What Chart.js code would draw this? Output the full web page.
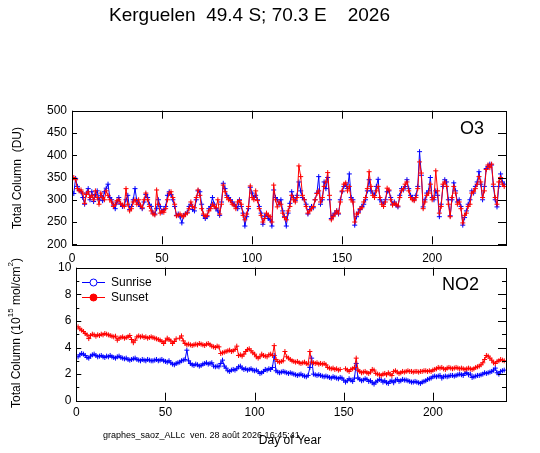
<!DOCTYPE html>
<html>
<head>
<meta charset="utf-8">
<title>Kerguelen SAOZ 2026</title>
<script src="https://cdn.jsdelivr.net/npm/chart.js@4.4.1/dist/chart.umd.min.js"></script>
<style>
  html, body { margin: 0; padding: 0; background: #fff; }
  #wrap { position: relative; width: 540px; height: 453px; }
  #wrap canvas { position: absolute; left: 0; top: 0; }
</style>
</head>
<body>
<div id="wrap">
  <canvas id="o3Chart" width="540" height="453"></canvas>
  <canvas id="no2Chart" width="540" height="453"></canvas>
</div>
<script>
// ---------- data ----------
const days = [
  1,2,3,4,5,6,7,8,9,10, 11,12,13,14,15,16,17,18,19,20,
  21,22,23,24,25,26,27,28,29,30, 31,32,33,34,35,36,37,38,39,40,
  41,42,43,44,45,46,47,48,49,50, 51,52,53,54,55,56,57,58,59,60,
  61,62,63,64,65,66,67,68,69,70, 71,72,73,74,75,76,77,78,79,80,
  81,82,83,84,85,86,87,88,89,90, 91,92,93,94,95,96,97,98,99,100,
  101,102,103,104,105,106,107,108,109,110, 111,112,113,114,115,116,117,118,119,120,
  121,122,123,124,125,126,127,128,129,130, 131,132,133,134,135,136,137,138,139,140,
  141,142,143,144,145,146,147,148,149,150, 151,152,153,154,155,156,157,158,159,160,
  161,162,163,164,165,166,167,168,169,170, 171,172,173,174,175,176,177,178,179,180,
  181,182,183,184,185,186,187,188,189,190, 191,192,193,194,195,196,197,198,199,200,
  201,202,203,204,205,206,207,208,209,210, 211,212,213,214,215,216,217,218,219,220,
  221,222,223,224,225,226,227,228,229,230, 231,232,233,234,235,236,237,238,239,240
];

const o3Sunrise = [
  314,348,330,322,318,305,290,315,325,300, 318,296,312,320,300,310,298,318,326,335,
  305,300,288,280,295,305,290,285,288,300, 310,278,285,300,325,298,290,285,280,295,
  312,305,290,285,270,268,280,300,285,272, 278,285,310,318,312,300,285,265,268,262,
  248,265,268,272,285,290,278,275,300,320, 318,290,265,258,262,280,285,305,290,280,
  275,265,295,337,325,310,305,300,295,290, 285,280,300,285,270,241,262,280,328,315,
  305,310,300,285,270,245,262,268,258,255, 241,322,305,300,290,300,275,262,241,270,
  292,318,305,298,310,340,320,305,300,290, 268,278,285,282,300,315,352,290,300,340,
  325,350,300,258,265,270,275,268,300,318, 330,335,325,358,305,300,243,262,272,278,
  285,290,300,320,345,320,315,310,330,346, 300,295,290,300,318,320,305,290,295,288,
  284,310,325,322,330,345,325,310,305,300, 310,330,408,355,284,300,315,320,350,305,
  300,320,310,262,290,330,345,340,300,264, 300,338,320,295,300,285,243,260,275,290,
  300,320,315,330,340,363,335,300,330,370, 375,380,378,330,300,284,330,358,340,335
];

const o3Sunset = [
  350,345,325,320,322,315,292,312,318,305, 310,300,320,305,290,315,305,300,320,310,
  300,295,285,290,298,300,292,288,285,325, 290,275,280,295,300,290,300,288,282,300,
  315,300,285,275,268,266,322,290,270,275, 272,280,300,315,318,305,290,264,265,268,
  264,262,268,270,280,295,285,282,305,322, 310,280,268,262,265,275,280,290,285,282,
  300,268,290,333,318,305,300,298,290,288, 280,295,298,290,265,255,268,285,331,305,
  300,320,298,280,265,250,258,270,265,262, 250,333,300,284,295,290,270,260,255,275,
  285,310,300,295,305,376,352,310,300,285, 270,275,280,285,300,314,320,295,305,330,
  340,361,310,255,262,268,275,270,295,320, 335,338,320,330,300,295,250,268,270,280,
  282,295,305,325,363,330,310,305,320,330, 305,290,285,295,326,322,300,288,292,290,
  286,305,320,325,335,340,320,305,300,298, 305,325,385,360,280,295,310,315,335,300,
  305,365,320,270,285,335,340,330,290,262, 305,330,315,290,295,280,248,265,270,285,
  290,315,318,325,335,352,340,305,320,368, 378,372,380,335,305,290,340,350,335,330
];

const no2Sunrise = [
  3.30,3.45,3.55,3.50,3.40,3.25,3.20,3.35,3.45,3.50, 3.40,3.30,3.35,3.40,3.30,3.25,3.35,3.30,3.40,3.30,
  3.25,3.20,3.30,3.35,3.25,3.20,3.15,3.20,3.10,3.05, 3.10,3.15,3.20,3.10,3.05,3.00,3.10,3.05,3.00,3.10,
  3.05,3.00,3.00,3.05,3.10,3.00,3.05,3.10,3.00,2.95, 2.90,3.00,2.85,2.75,2.70,2.80,2.85,2.90,3.00,3.05,
  3.10,3.80,3.00,2.80,2.70,2.65,2.75,2.70,2.60,2.65, 2.75,2.80,2.85,2.75,2.80,2.85,2.60,2.55,2.60,2.55,
  2.80,3.05,2.60,2.45,2.25,2.20,2.30,2.35,2.30,2.40, 2.55,2.60,2.45,2.35,2.40,2.30,2.35,2.40,2.30,2.25,
  2.30,2.18,2.05,2.10,2.20,2.35,2.30,2.40,2.35,2.50, 3.40,2.25,2.15,2.10,2.15,2.20,2.15,2.10,2.05,2.10,
  2.05,2.00,1.95,1.90,1.95,2.00,1.90,1.85,1.80,1.90, 2.50,3.20,2.00,1.95,1.90,1.95,1.90,1.85,1.80,1.85,
  1.80,1.75,1.70,1.80,1.75,1.70,1.65,1.75,1.70,1.55, 1.40,1.50,1.65,1.55,1.45,1.70,2.80,1.70,1.60,1.50,
  1.55,1.65,1.60,1.45,1.50,1.35,1.25,1.40,1.50,1.60, 1.55,1.40,1.50,1.35,1.30,1.45,1.50,1.35,1.55,1.60,
  1.45,1.50,1.60,1.55,1.55,1.50,1.45,1.40,1.40,1.45, 1.40,1.35,1.30,1.40,1.45,1.50,1.60,1.65,1.70,1.80,
  1.85,1.80,1.85,1.90,1.70,1.80,1.85,1.80,1.85,1.90, 1.90,1.85,1.90,1.95,2.00,1.95,1.90,2.05,2.10,1.95,
  2.00,1.75,1.80,1.85,1.90,1.90,1.95,2.00,2.10,2.05, 2.10,2.15,2.20,2.30,2.45,2.10,2.00,2.20,2.25,2.30
];

const no2Sunset = [
  5.55,5.40,5.30,5.20,5.05,4.95,4.67,4.90,5.00,4.95, 4.85,4.95,4.90,5.00,4.95,5.05,5.00,4.95,4.90,4.85,
  4.80,4.85,4.55,4.70,4.75,4.80,4.70,4.75,4.80,4.90, 4.60,4.36,4.55,4.80,4.87,4.80,4.85,4.75,4.80,4.70,
  4.75,4.80,4.75,4.70,4.65,4.60,4.55,4.45,4.30,4.50, 4.70,4.60,4.50,4.30,4.45,4.65,null,4.70,4.87,4.50,
  4.30,4.20,4.25,4.20,4.15,4.20,4.25,4.20,4.30,4.25, 4.20,4.15,4.25,4.30,4.20,4.10,4.05,4.00,4.10,4.05,
  3.55,3.60,3.65,3.70,3.75,3.80,3.70,3.75,3.85,4.10, 3.40,3.45,3.35,3.50,3.70,3.85,3.90,3.75,3.60,3.50,
  3.30,3.20,3.30,3.50,3.40,3.35,3.30,3.45,3.50,3.40, 4.14,3.10,2.95,2.90,2.95,3.00,3.70,3.30,3.20,3.10,
  3.00,2.95,2.90,2.95,2.85,2.80,2.85,2.90,2.80,2.75, 3.70,2.90,2.85,2.80,2.85,2.75,2.80,2.75,2.80,2.70,
  2.50,2.45,2.40,2.45,2.35,2.40,2.30,2.35,null,null, 2.40,2.30,2.20,2.35,2.40,2.50,3.20,2.30,2.20,2.10,
  2.15,2.20,2.10,2.05,2.15,2.35,2.30,2.05,2.00,1.95, 1.90,2.00,2.05,1.95,2.10,2.00,1.90,2.20,2.25,2.15,
  2.05,2.10,2.20,2.15,2.20,2.25,2.20,2.20,2.15,2.20, 2.20,2.15,2.20,2.20,2.25,2.25,2.20,2.25,2.20,2.30,
  2.35,2.40,2.50,2.45,2.50,2.40,2.35,2.45,2.50,2.45, 2.40,2.45,2.50,2.45,2.40,2.45,2.40,2.35,2.40,2.45,
  2.40,2.35,2.40,2.50,2.55,2.60,2.70,2.85,3.10,3.40, 3.35,3.20,3.05,2.85,2.80,2.95,3.00,3.10,3.05,3.00
];

const o3Ticks = [200, 250, 300, 350, 400, 450, 500];
const no2Ticks = [0, 2, 4, 6, 8, 10];

// ---------- styles ----------
const BLUE = '#0000ff';
const RED = '#ff0000';
const FONT = '"Liberation Sans", Arial, sans-serif';

const pairs = (xs, ys) => xs.map((x, i) => ({ x: x, y: ys[i] }));

function series(label, values, color, order) {
  return {
    label: label,
    data: pairs(days, values),
    borderColor: color,
    backgroundColor: color,
    borderWidth: 1,
    pointStyle: 'cross',
    pointRadius: 2.5,
    pointBorderWidth: 1,
    pointHoverRadius: 0,
    tension: 0,
    spanGaps: false,
    order: order
  };
}

// frame with inward ticks on all four sides
const framePlugin = {
  id: 'frame',
  afterDatasetsDraw(chart, args, opts) {
    const { ctx, chartArea: a } = chart;
    const x = chart.scales.x, y = chart.scales.y;
    ctx.save();
    ctx.strokeStyle = '#000';
    ctx.lineWidth = 1;
    ctx.strokeRect(Math.round(a.left) + 0.5, Math.round(a.top) + 0.5,
      Math.round(a.right - a.left), Math.round(a.bottom - a.top));
    ctx.beginPath();
    x.ticks.forEach(t => {
      const px = Math.round(x.getPixelForValue(t.value)) + 0.5;
      ctx.moveTo(px, a.bottom); ctx.lineTo(px, a.bottom - 8);
      ctx.moveTo(px, a.top); ctx.lineTo(px, a.top + 8);
    });
    y.ticks.forEach((t, i) => {
      const py = Math.round(y.getPixelForValue(t.value)) + 0.5;
      ctx.moveTo(a.left, py); ctx.lineTo(a.left + 5, py);
      ctx.moveTo(a.right, py); ctx.lineTo(a.right - 8, py);
      if (opts.minor && i < y.ticks.length - 1) {
        const mid = (t.value + y.ticks[i + 1].value) / 2;
        const pm = Math.round(y.getPixelForValue(mid)) + 0.5;
        ctx.moveTo(a.left, pm); ctx.lineTo(a.left + 3, pm);
        ctx.moveTo(a.right, pm); ctx.lineTo(a.right - 4, pm);
      }
    });
    ctx.stroke();
    ctx.restore();
  }
};

// rotated y title, with optional superscript pieces
function drawYTitle(ctx, cx, cy, parts) {
  ctx.save();
  ctx.translate(cx, cy);
  ctx.rotate(-Math.PI / 2);
  ctx.fillStyle = '#000';
  ctx.textBaseline = 'middle';
  ctx.textAlign = 'left';
  let total = 0;
  parts.forEach(p => {
    ctx.font = (p.sup ? 8 : 12) + 'px ' + FONT;
    p.w = ctx.measureText(p.text).width;
    total += p.w;
  });
  let pos = -total / 2;
  parts.forEach(p => {
    ctx.font = (p.sup ? 8 : 12) + 'px ' + FONT;
    ctx.fillText(p.text, pos, p.sup ? -6 : 0);
    pos += p.w;
  });
  ctx.restore();
}

const o3Text = {
  id: 'o3Text',
  afterDraw(chart) {
    const ctx = chart.ctx;
    ctx.save();
    ctx.fillStyle = '#000';
    ctx.textBaseline = 'middle';
    ctx.textAlign = 'left';
    ctx.font = '19px ' + FONT;
    ctx.fillText('Kerguelen  49.4 S; 70.3 E    2026', 109, 16);
    ctx.font = '18px ' + FONT;
    ctx.fillText('O3', 460, 129);
    ctx.restore();
    drawYTitle(ctx, 18, 178, [{ text: 'Total Column  (DU)' }]);
  }
};

const no2Text = {
  id: 'no2Text',
  afterDraw(chart) {
    const ctx = chart.ctx;
    const ds = chart.data.datasets;
    ctx.save();
    ctx.fillStyle = '#000';
    ctx.textBaseline = 'middle';
    ctx.textAlign = 'left';
    ctx.font = '18px ' + FONT;
    ctx.fillText('NO2', 442, 285);

    // legend
    const rows = [282, 297];
    ds.forEach((d, i) => {
      const yy = rows[i] + 0.5;
      ctx.strokeStyle = d.borderColor;
      ctx.lineWidth = 1;
      ctx.beginPath();
      ctx.moveTo(82, yy); ctx.lineTo(105, yy);
      ctx.stroke();
      ctx.beginPath();
      ctx.arc(93.5, yy, 3.5, 0, Math.PI * 2);
      ctx.fillStyle = i === 0 ? '#fff' : d.borderColor;
      ctx.fill();
      ctx.stroke();
      ctx.fillStyle = '#000';
      ctx.font = '12px ' + FONT;
      ctx.fillText(d.label, 111, yy);
    });

    ctx.font = '9px ' + FONT;
    ctx.fillText('graphes_saoz_ALLc  ven. 28 ao\u00fbt 2026 16:45:41', 103, 436);
    ctx.font = '12px ' + FONT;
    ctx.textAlign = 'center';
    ctx.fillText('Day of Year', 290, 441);
    ctx.restore();

    drawYTitle(ctx, 17, 333, [
      { text: 'Total Column (10' }, { text: '15', sup: true },
      { text: ' mol/cm' }, { text: '2', sup: true }, { text: ')' }
    ]);
  }
};

// the scale boxes get a fixed size so the labels (clipped to the box) show
const Y_BOX = 40, X_BOX = 25;

function axes(yMin, yMax, yStep, xPad) {
  const tickFont = { family: FONT, size: 12 };
  return {
    x: {
      type: 'linear', min: 0, max: 241,
      afterFit: s => { s.height = X_BOX; },
      grid: { display: false, drawTicks: false },
      border: { display: false },
      ticks: { stepSize: 50, includeBounds: false, padding: xPad, color: '#000', font: tickFont, maxRotation: 0 }
    },
    y: {
      min: yMin, max: yMax,
      afterFit: s => { s.width = Y_BOX; },
      grid: { display: false, drawTicks: false },
      border: { display: false },
      ticks: { stepSize: yStep, includeBounds: false, padding: 5, color: '#000', font: tickFont }
    }
  };
}

// ---------- O3 panel ----------
new Chart(document.getElementById('o3Chart'), {
  type: 'line',
  data: {
    datasets: [
      series('Sunrise', o3Sunrise, BLUE, 1),
      series('Sunset', o3Sunset, RED, 0)
    ]
  },
  options: {
    responsive: false,
    animation: false,
    events: [],
    layout: { padding: { left: 72 - Y_BOX, right: 34, top: 110.7, bottom: 208.7 - X_BOX } },
    plugins: { legend: { display: false }, tooltip: { enabled: false }, frame: { minor: false } },
    scales: axes(o3Ticks[0], o3Ticks[o3Ticks.length - 1], o3Ticks[1] - o3Ticks[0], 7)
  },
  plugins: [framePlugin, o3Text]
});

// ---------- NO2 panel ----------
new Chart(document.getElementById('no2Chart'), {
  type: 'line',
  data: {
    datasets: [
      series('Sunrise', no2Sunrise, BLUE, 1),
      series('Sunset', no2Sunset, RED, 0)
    ]
  },
  options: {
    responsive: false,
    animation: false,
    events: [],
    layout: { padding: { left: 76.3 - Y_BOX, right: 34, top: 267.7, bottom: 52.3 - X_BOX } },
    plugins: { legend: { display: false }, tooltip: { enabled: false }, frame: { minor: true } },
    scales: axes(no2Ticks[0], no2Ticks[no2Ticks.length - 1], no2Ticks[1] - no2Ticks[0], 5)
  },
  plugins: [framePlugin, no2Text]
});
</script>
</body>
</html>
